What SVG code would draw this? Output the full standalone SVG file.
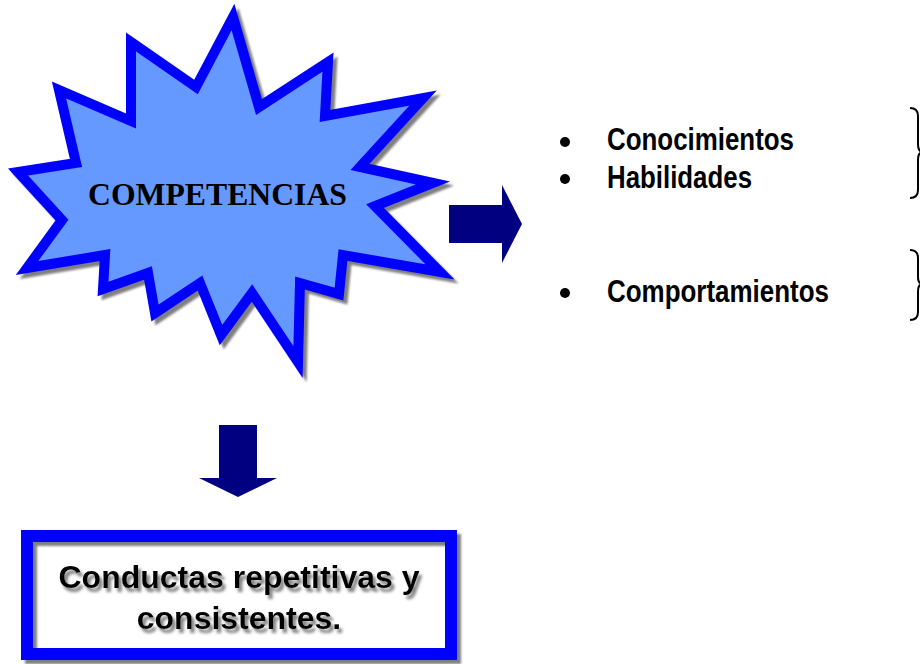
<svg xmlns="http://www.w3.org/2000/svg" width="920" height="664" viewBox="0 0 920 664">
  <defs>
    <filter id="shadow" x="-10%" y="-10%" width="130%" height="130%">
      <feGaussianBlur stdDeviation="1.2"/>
    </filter>
    <filter id="tshadow" x="-10%" y="-20%" width="130%" height="160%">
      <feGaussianBlur in="SourceAlpha" stdDeviation="1.5" result="b"/>
      <feOffset in="b" dx="3" dy="4" result="o"/>
      <feFlood flood-color="#808080"/>
      <feComposite in2="o" operator="in" result="s"/>
      <feMerge><feMergeNode in="s"/><feMergeNode in="SourceGraphic"/></feMerge>
    </filter>
  </defs>
  <style>
    .arrow { fill: #000080; }
    .item { font-family: "Liberation Sans", Arial, sans-serif; font-weight: bold; font-size: 31px; fill: #000; }
    .brace { fill: none; stroke: #000; stroke-width: 2; }
    .boxtext { font-family: "Liberation Sans", Arial, sans-serif; font-weight: bold; font-size: 32px; fill: #000; }
  </style>

  <g id="competencias">
    <polygon transform="translate(4,4)" filter="url(#shadow)" fill="#808080" stroke="#808080" stroke-width="10" stroke-miterlimit="10"
      points="233,17 259,107 328,62 325,116 423,98 360,167 433,183 375,206 440,272 343,255 339,294 300,283 298,362 252,293 221,335 200,283 155,313 148,273 103,289 105,255 27,268 62,220 18,172 76,163 59,90 131,121 131,42 196,87"/>
    <polygon fill="#6699FF" stroke="#0000FF" stroke-width="10" stroke-miterlimit="10"
      points="233,17 259,107 328,62 325,116 423,98 360,167 433,183 375,206 440,272 343,255 339,294 300,283 298,362 252,293 221,335 200,283 155,313 148,273 103,289 105,255 27,268 62,220 18,172 76,163 59,90 131,121 131,42 196,87"/>
    <text x="217.5" y="205" text-anchor="middle" font-family="'Liberation Serif', 'Times New Roman', serif" font-weight="bold" font-size="31.5" textLength="259" lengthAdjust="spacingAndGlyphs">COMPETENCIAS</text>
  </g>

  <g id="connectors">
    <polygon class="arrow" points="449,205 502,205 502,185 522,224 502,263 502,243 449,243"/>
    <polygon class="arrow" points="219,425 257,425 257,478 277,478 238,497 199,478 219,478"/>
  </g>

  <g id="lista">
    <circle cx="565" cy="142" r="5"/>
    <circle cx="565" cy="179" r="5"/>
    <circle cx="565" cy="293" r="5"/>
    <text class="item" x="607" y="150" textLength="187" lengthAdjust="spacingAndGlyphs">Conocimientos</text>
    <text class="item" x="607" y="188" textLength="145" lengthAdjust="spacingAndGlyphs">Habilidades</text>
    <text class="item" x="607" y="302" textLength="222" lengthAdjust="spacingAndGlyphs">Comportamientos</text>
  </g>

  <g id="llaves">
    <path class="brace" d="M910,108 Q918,108 918,116 L918,144 Q918,152 923,152 Q918,152 918,160 L918,190 Q918,198 910,198"/>
    <path class="brace" d="M910,250 Q918,250 918,258 L918,277 Q918,284 923,284 Q918,284 918,291 L918,312 Q918,320 910,320"/>
  </g>

  <g id="conductas">
    <rect x="27" y="536" width="424" height="118" fill="#ffffff"/>
    <rect x="31" y="540" width="424" height="118" fill="none" stroke="#808080" stroke-width="12" filter="url(#shadow)"/>
    <rect x="27" y="536" width="424" height="118" fill="none" stroke="#0000FF" stroke-width="12"/>
    <g filter="url(#tshadow)">
      <text class="boxtext" x="239" y="588" text-anchor="middle">Conductas repetitivas y</text>
      <text class="boxtext" x="239" y="629" text-anchor="middle">consistentes.</text>
    </g>
  </g>
</svg>
